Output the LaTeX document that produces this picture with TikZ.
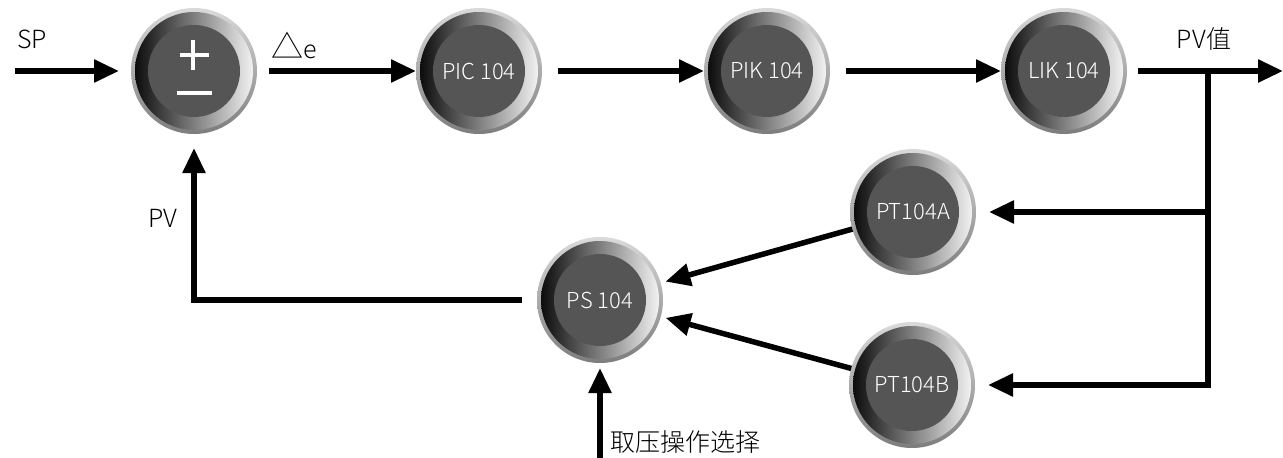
\documentclass[tikz,border=0pt]{standalone}
\usepackage{fontspec}
\setmainfont{Noto Sans CJK SC}[UprightFont={* Light}]
\usetikzlibrary{arrows.meta}
\definecolor{discgray}{RGB}{86,85,85}
\definecolor{rimlight}{RGB}{218,218,218}
\definecolor{rimdark}{RGB}{125,125,125}
\definecolor{ringdark}{RGB}{12,12,12}
\definecolor{ringlight}{RGB}{242,242,242}

\begin{document}
\begin{tikzpicture}[x=1pt,y=-1pt,
  ball/.style={circle, minimum size=126pt, inner sep=0pt, outer sep=0pt,
    text=white, font=\fontsize{22}{24}\selectfont,
    path picture={
      \shade[top color=rimlight, bottom color=rimdark]
        (path picture bounding box.center) circle (63pt);
      \shade[left color=ringdark, right color=ringlight]
        (path picture bounding box.center) circle (59pt);
      \fill[discgray] (path picture bounding box.center) circle (46pt);
    }},
  arr/.style={line width=5.5pt, -{Triangle[length=25pt,width=22pt]}},
  lbl/.style={font=\fontsize{25}{28}\selectfont, inner sep=0pt},
  sign/.style={white, line width=3.2pt}
]
\useasboundingbox (0,0) rectangle (1283,458);

% blocks of the loop
\node[ball] (sum) at (194,71) {};
\node[ball] (pic) at (479,71) {PIC 104};
\node[ball] (pik) at (767,71) {PIK 104};
\node[ball] (lik) at (1064,71) {LIK 104};
\node[ball] (pta) at (913,212) {PT104A};
\node[ball] (ptb) at (912,385) {PT104B};
\node[ball] (ps)  at (600,300) {PS 104};

% plus / minus signs of the comparator
\draw[sign] ([shift={(-14.5,-16)}]sum.center) -- ([shift={(14.5,-16)}]sum.center);
\draw[sign] ([shift={(-1,-31)}]sum.center) -- ([shift={(-1,-1)}]sum.center);
\draw[sign] ([shift={(-17.5,22)}]sum.center) -- ([shift={(17.5,22)}]sum.center);

% free ends of the signal lines
\coordinate (spin)  at (15,71);
\coordinate (pvout) at (1283,71);
\coordinate (tap)   at (1208,71);
\coordinate (selin) at (600,458);

% forward path
\draw[arr, shorten >=12pt] (spin) -- (sum);
\draw[arr, shorten <=12pt] (sum) -- (pic);
\draw[arr, shorten <=16pt] (pic) -- (pik);
\draw[arr, shorten <=16pt] (pik) -- (lik);
\draw[arr, shorten <=11pt] (lik) -- (pvout);

% measurement branch
\draw[arr, shorten >=13pt] (tap) |- (pta);
\draw[arr, shorten >=13pt] (tap) |- (ptb);
\draw[arr, shorten >=5pt] (pta) -- (ps);
\draw[arr, shorten >=5pt] (ptb) -- (ps);
\draw[arr, shorten <=15pt, shorten >=14pt] (ps) -| (sum);
\draw[arr, shorten >=5pt] (selin) -- (ps);

% signal labels
\node[lbl] (splbl) at (32,39) {SP};
\node[lbl] (delbl) at (294,45) {{\fontsize{32}{32}\selectfont △}e};
\node[lbl] (pvlbl) at (1204,39) {PV值};
\node[lbl] (fblbl) at (163,218) {PV};
\node[lbl, anchor=west] (sellbl) at (610,442) {取压操作选择};
\end{tikzpicture}
\end{document}
